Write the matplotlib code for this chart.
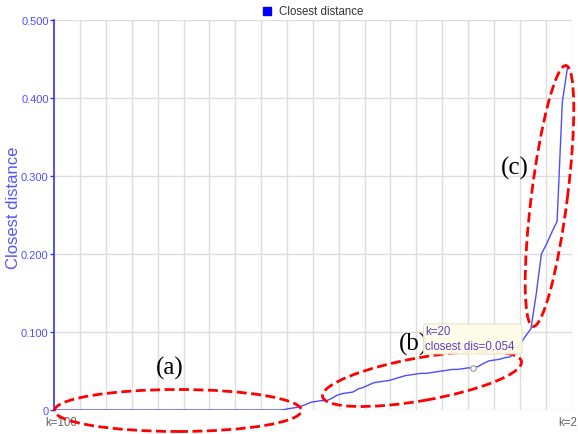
import numpy as np
import matplotlib
matplotlib.use('Agg')
import matplotlib.pyplot as plt
from matplotlib.patches import Ellipse, FancyBboxPatch, Polygon
from matplotlib.transforms import IdentityTransform, ScaledTranslation

plt.rcParams['font.family'] = ['Liberation Sans', 'DejaVu Sans']

# k goes from 100 down to 2
k_values = list(range(100, 1, -1))
closest = [0.0] * 44 + [
    0.0006, 0.002, 0.003, 0.0045, 0.007, 0.010, 0.011, 0.012, 0.012, 0.015,   # k=56..47
    0.019, 0.021, 0.022, 0.023, 0.027, 0.029, 0.032, 0.035, 0.036, 0.037,     # k=46..37
    0.038, 0.040, 0.042, 0.044, 0.045, 0.046, 0.047, 0.047, 0.048, 0.049,     # k=36..27
    0.050, 0.051, 0.052, 0.052, 0.053, 0.054, 0.054, 0.056, 0.060, 0.063,     # k=26..17
    0.064, 0.065, 0.067, 0.068, 0.074, 0.085, 0.095, 0.104, 0.148, 0.200,     # k=16..7
    0.213, 0.228, 0.242, 0.395, 0.440,                                        # k=6..2
]
y_ticks = [0, 0.1, 0.2, 0.3, 0.4, 0.5]
y_tick_labels = ['0', '0.100', '0.200', '0.300', '0.400', '0.500']
tip_k = 20

W, H = 578, 435
fig = plt.figure(figsize=(W / 100, H / 100), dpi=100)
ax = fig.add_axes([54.3 / W, 24 / H, 517.2 / W, 390 / H])

idx = np.arange(len(k_values))
x_max = 98.75
ax.plot(idx, closest, color='#4d4dff', lw=1.0, zorder=3)

ax.set_xlim(0, x_max)
ax.set_ylim(0, 0.5)
ax.set_xticks(np.linspace(0, x_max, 21), minor=True)
ax.grid(True, which='minor', axis='x', color='#dddddd', lw=1)
ax.set_yticks(y_ticks)
ax.set_yticklabels(y_tick_labels)
ax.grid(True, which='major', axis='y', color='#dddddd', lw=1)
ax.tick_params(axis='x', which='minor', length=0)
ax.tick_params(axis='y', colors='#3333ff', labelcolor='#5050ff', labelsize=8, length=3, width=1, pad=1)

ax.set_xticks([0, len(k_values) - 1])
ax.set_xticklabels(['k=%d' % k_values[0], 'k=%d' % k_values[-1]], color='#666666', fontsize=8.3)
ax.tick_params(axis='x', which='major', length=0, pad=4)
lbls = ax.get_xticklabels()
lbls[0].set_transform(lbls[0].get_transform() + ScaledTranslation(7 / 100, 0, fig.dpi_scale_trans))

for s in ['top', 'right', 'bottom']:
    ax.spines[s].set_visible(False)
ax.spines['left'].set_color('#3333ff')
ax.spines['left'].set_linewidth(1.2)
ax.set_axisbelow(True)

fig.text(14 / W, 1 - 208 / H, 'Closest distance', rotation=90, color='#5555ff',
         fontsize=12, ha='center', va='center')

# legend at top
fig.patches.append(plt.Rectangle((263 / W, 1 - 15.5 / H), 7.5 / W, 7.5 / H,
                                 transform=fig.transFigure, color='#0000ff'))
fig.text(279 / W, 1 - 12 / H, 'Closest distance', fontsize=8.3, color='#333333', va='center')


def px(x, y):
    return (x, H - y)


# dashed red ellipses marking the three stages
for (cx, cy, w, h, ang) in [(178, 411.5, 247, 42, 0), (422, 380, 202, 43, 10), (549.5, 197, 263, 36, 82.8)]:
    e = Ellipse(px(cx, cy), w, h, angle=ang, transform=IdentityTransform(), fill=False,
                edgecolor='#ff0000', lw=2.0, ls=(0, (3.6, 1.6)), zorder=5, clip_on=False)
    fig.patches.append(e)

for lab, (tx, ty) in [('(a)', (170, 368)), ('(b)', (414, 344)), ('(c)', (515, 168))]:
    fig.text(tx / W, 1 - ty / H, lab, fontsize=18, family='Liberation Serif',
             ha='center', va='center', color='black')

# tooltip for k=20
ti = k_values.index(tip_k)
tv = closest[ti]
box = FancyBboxPatch(px(423.5, 355), 98.5, 30, boxstyle='round,pad=0,rounding_size=3',
                     transform=IdentityTransform(), facecolor='#fffde8', edgecolor='#e6e2c0',
                     lw=0.8, zorder=6, alpha=0.95)
fig.patches.append(box)
fig.patches.append(Polygon([px(469, 355), px(477, 355), px(473, 359.5)], closed=True,
                           transform=IdentityTransform(), facecolor='#fffde8', edgecolor='none', zorder=6))
fig.text(425 / W, 1 - 332 / H, 'k=%d' % tip_k, fontsize=8.3, color='#5b3fc8', va='center', zorder=7)
fig.text(425 / W, 1 - 347.5 / H, 'closest dis=%.3f' % tv, fontsize=8.3, color='#5b3fc8', va='center', zorder=7)
ax.plot([ti], [tv], marker='o', ms=4, mfc='white', mec='#999999', mew=0.8, zorder=4)

fig.savefig('out.png', dpi=100)
